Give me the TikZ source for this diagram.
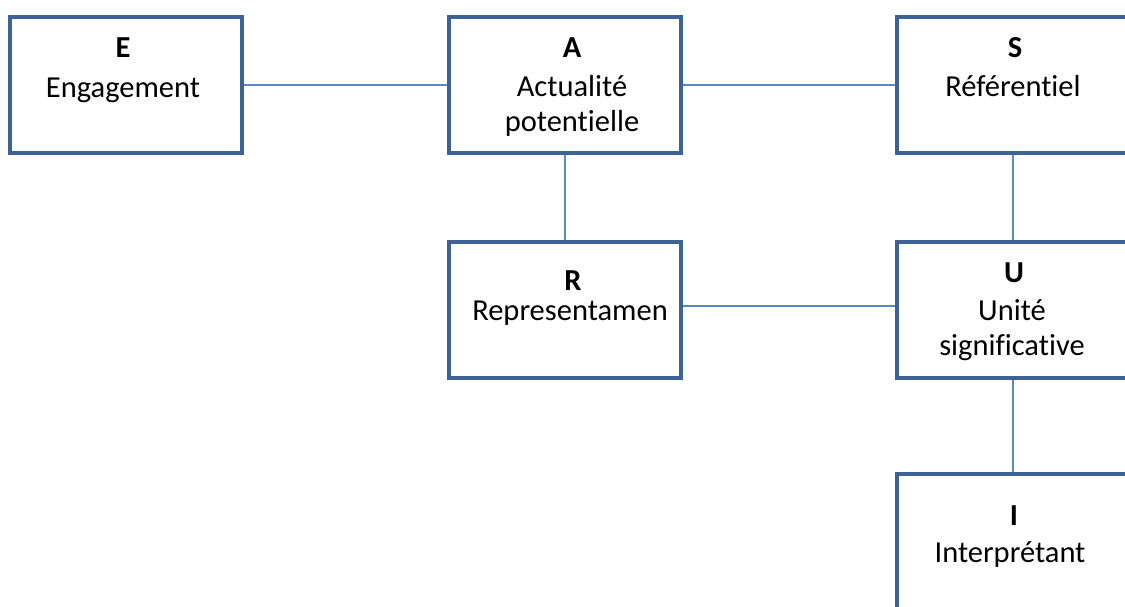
\documentclass[tikz,border=0pt]{standalone}
\usepackage{fontspec}
\setmainfont[Ligatures={NoCommon,NoRequired,NoContextual}]{Carlito}
\definecolor{boxc}{RGB}{60,98,150}
\definecolor{linec}{RGB}{88,136,198}
\tikzset{
  box/.style={draw=boxc, line width=3.5pt, fill=white, minimum width=232pt, minimum height=136pt, inner sep=0pt},
  conn/.style={draw=linec, line width=1.7pt},
  lbl/.style={anchor=base, inner sep=0pt, font=\fontsize{30.5}{36}\selectfont},
  hd/.style={lbl, font=\fontsize{30.5}{36}\selectfont\bfseries}
}
\begin{document}
\begin{tikzpicture}[x=1pt,y=-1pt]
\clip (0,0) rectangle (1125,607);
\fill[white] (0,0) rectangle (1125,607);
% boxes
\node[box] (E) at (126,85) {};
\node[box] (A) at (565,85) {};
\node[box] (S) at (1013,85) {};
\node[box] (R) at (565,310) {};
\node[box] (U) at (1013,310) {};
\node[box] (I) at (1013,542) {};
% connectors
\draw[conn] (E.east) -- (A.west);
\draw[conn] (A.east) -- (S.west);
\draw[conn] (A.south) -- (R.north);
\draw[conn] (S.south) -- (U.north);
\draw[conn] ([yshift=4pt]R.east) -- ([yshift=4pt]U.west);
\draw[conn] (U.south) -- (I.north);
% texts
\node[hd] (Eh) at (123,58) {E};
\node[lbl] (Et) at (123,98) {Engagement};
\node[hd] (Ah) at (572,58) {A};
\node[lbl] (At1) at (572,97) {Actualité};
\node[lbl] (At2) at (572,132) {potentielle};
\node[hd] (Sh) at (1015,58) {S};
\node[lbl] (St) at (1013,97) {Référentiel};
\node[hd] (Rh) at (573,290) {R};
\node[lbl] (Rt) at (570,320) {Representamen};
\node[hd] (Uh) at (1014,282) {U};
\node[lbl] (Ut1) at (1012,320) {Unité};
\node[lbl] (Ut2) at (1012,355) {significative};
\node[hd] (Ih) at (1014,525) {I};
\node[lbl] (It) at (1010,562) {Interprétant};
\end{tikzpicture}
\end{document}
